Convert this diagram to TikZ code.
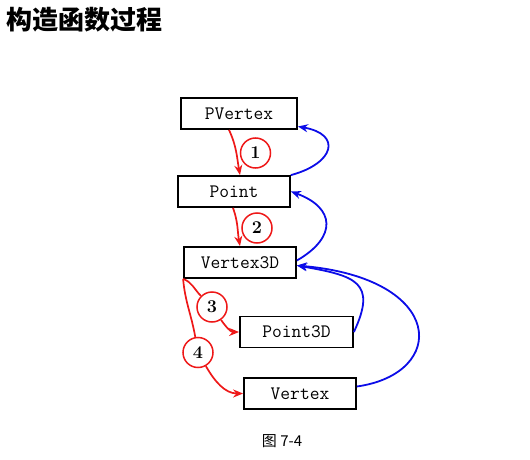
\documentclass[tikz,border=0pt]{standalone}
\usepackage{fontspec}
\newfontfamily\cjk{Noto Sans CJK SC}
\usetikzlibrary{arrows.meta}
\definecolor{cR}{RGB}{238,24,24}
\definecolor{cB}{RGB}{12,12,232}

\begin{document}
\begin{tikzpicture}[x=1pt, y=1pt,
    cls/.style={draw, line width=1.8pt, minimum width=112pt, minimum height=31pt, inner sep=0pt,
                font=\fontsize{19}{19}\selectfont\ttfamily},
    num/.style={circle, draw=cR, line width=1.5pt, fill=white, minimum size=30pt, inner sep=0pt,
                font=\fontsize{18}{18}\selectfont\bfseries},
    call/.style={draw=cR, line width=1.7pt, -{Stealth[length=10pt, width=8pt]}},
    ret/.style={draw=cB, line width=1.8pt, -{Stealth[length=10pt, width=8pt]}}]

    \useasboundingbox (0,0) rectangle (530,-460);

    % Title and caption
    \node[anchor=west, font=\cjk\bfseries\fontsize{26}{26}\selectfont] (title) at (3,-20) {构造函数过程};
    \node[font=\cjk\fontsize{15}{15}\selectfont] (cap) at (282,-441) {图 7-4};

    % Classes
    \node[cls, minimum width=116pt] (PVertex) at (239,-113.5) {PVertex};
    \node[cls] (Point)    at (234,-191.5) {Point};
    \node[cls] (Vertex3D) at (240,-262.5) {Vertex3D};
    \node[cls, minimum width=113pt] (Point3D) at (296.5,-332) {Point3D};
    \node[cls] (Vertex)   at (300,-393.5) {Vertex};

    % Order of the calls
    \node[num] (c1) at (255.5,-153) {1};
    \node[num] (c2) at (257,-228) {2};
    \node[num] (c3) at (212,-307) {3};
    \node[num] (c4) at (198,-352.5) {4};

    % Calls (red)
    \draw[call] ([xshift=-10pt]PVertex.south) to[out=-65, in=100] ([xshift=6pt]Point.north);
    \draw[call] ([xshift=-1pt]Point.south) to[out=-70, in=100] (Vertex3D.north);
    \draw[call] (Vertex3D.south west) to[out=-20, in=135] (c3) to[out=-55, in=180] (Point3D.west);
    \draw[call] (Vertex3D.south west) to[out=-85, in=100] (c4) to[out=-60, in=180] (Vertex.west);

    % Returns (blue)
    \draw[ret] (Point.north east) to[out=15, in=-10, out distance=45pt, in distance=45pt] ([yshift=-13pt]PVertex.east);
    \draw[ret] ([yshift=2pt]Vertex3D.east) to[out=30, in=-20, out distance=47pt, in distance=47pt] (Point.east);
    \draw[ret] (Point3D.east) to[out=65, in=-10, out distance=55pt, in distance=60pt] ([yshift=-3pt]Vertex3D.east);
    \draw[ret] ([yshift=7pt]Vertex.east) to[out=8, in=-5, out distance=92pt, in distance=150pt] ([yshift=-3pt]Vertex3D.east);

\end{tikzpicture}
\end{document}
